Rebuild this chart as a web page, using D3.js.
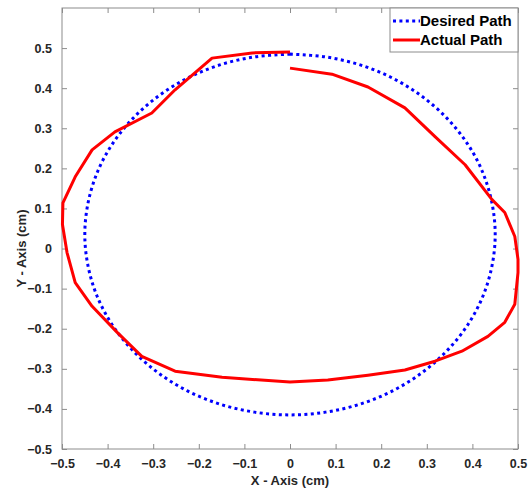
<!DOCTYPE html>
<html>
<head>
<meta charset="utf-8">
<script src="https://cdn.jsdelivr.net/npm/d3@7"></script>
<style>
  body { margin: 0; background: #fff; }
  text { font-family: "Liberation Sans", Arial, sans-serif; font-weight: bold; }
</style>
</head>
<body>
<div id="chart"></div>
<script>
// desired path (blue dotted)
var desiredX = [0, 0.078, 0.154, 0.225, 0.289, 0.345, 0.390, 0.423, 0.443, 0.450,
                0.443, 0.423, 0.390, 0.345, 0.289, 0.225, 0.154, 0.078, 0,
                -0.078, -0.154, -0.225, -0.289, -0.345, -0.390, -0.423, -0.443, -0.450,
                -0.443, -0.423, -0.390, -0.345, -0.289, -0.225, -0.154, -0.078, 0];
var desiredY = [0.485, 0.478, 0.458, 0.425, 0.380, 0.324, 0.260, 0.189, 0.113, 0.035,
                -0.043, -0.119, -0.190, -0.254, -0.310, -0.355, -0.388, -0.408, -0.415,
                -0.408, -0.388, -0.355, -0.310, -0.254, -0.190, -0.119, -0.043, 0.035,
                0.113, 0.189, 0.260, 0.324, 0.380, 0.425, 0.458, 0.478, 0.485];

// actual path (red solid)
var actualX = [0, 0.092, 0.171, 0.252, 0.318, 0.384, 0.443, 0.471, 0.493, 0.500,
               0.500, 0.493, 0.471, 0.434, 0.377, 0.318, 0.252, 0.171, 0.083, 0,
               -0.149, -0.252, -0.325, -0.379, -0.434, -0.471, -0.489, -0.499, -0.498,
               -0.471, -0.434, -0.384, -0.303, -0.252, -0.171, -0.083, 0];
var actualY = [0.450, 0.435, 0.403, 0.351, 0.279, 0.209, 0.122, 0.090, 0.030, -0.027,
               -0.060, -0.139, -0.184, -0.219, -0.256, -0.281, -0.303, -0.316, -0.328, -0.333,
               -0.321, -0.306, -0.269, -0.209, -0.144, -0.085, -0.010, 0.060, 0.114,
               0.179, 0.246, 0.291, 0.338, 0.396, 0.475, 0.488, 0.490];

var xTicks = [-0.5, -0.4, -0.3, -0.2, -0.1, 0, 0.1, 0.2, 0.3, 0.4, 0.5];
var yTicks = [-0.5, -0.4, -0.3, -0.2, -0.1, 0, 0.1, 0.2, 0.3, 0.4, 0.5];
var seriesNames = ["Desired Path", "Actual Path"];

var width = 532,
    height = 489,
    margin = { left: 62, right: 14, top: 8, bottom: 40 };

var innerW = width - margin.left - margin.right,
    innerH = height - margin.top - margin.bottom;

function translate(x, y){
    return "translate(" + x + "," + y + ")";
}

var xScale = d3.scaleLinear().domain([-0.5, 0.5]).range([0, innerW]);
var yScale = d3.scaleLinear().domain([-0.5, 0.6]).range([innerH, 0]);

var svg = d3.select("#chart").append("svg")
    .attr("width", width)
    .attr("height", height);

var g = svg.append("g").attr("transform", translate(margin.left, margin.top));

var fmt = function(d){ return d === 0 ? "0" : d3.format(".1f")(d); };
var axisColor = "#8c8c8c", labelColor = "#262626";

function styleAxis(sel, showText){
    sel.select(".domain").remove();
    sel.selectAll(".tick line").attr("stroke", axisColor);
    sel.selectAll(".tick text")
        .attr("fill", labelColor)
        .style("font-size", "12.5px")
        .style("display", showText ? null : "none");
}

// bottom / top axes (ticks inward)
g.append("g").attr("class", "x-axis")
    .attr("transform", translate(0, innerH))
    .call(d3.axisBottom(xScale).tickValues(xTicks).tickFormat(fmt).tickSizeInner(-5).tickPadding(10))
    .call(styleAxis, true);
g.append("g")
    .call(d3.axisTop(xScale).tickValues(xTicks).tickSizeInner(-5))
    .call(styleAxis, false);

// left / right axes
g.append("g").attr("class", "y-axis")
    .call(d3.axisLeft(yScale).tickValues(yTicks).tickFormat(fmt).tickSizeInner(-5).tickPadding(10))
    .call(styleAxis, true);
g.append("g")
    .attr("transform", translate(innerW, 0))
    .call(d3.axisRight(yScale).tickValues(yTicks).tickSizeInner(-5))
    .call(styleAxis, false);

g.append("rect")
    .attr("width", innerW).attr("height", innerH)
    .attr("fill", "none").attr("stroke", axisColor).attr("stroke-width", 1);

// paths
var desired = desiredX.map(function(d, i){ return [d, desiredY[i]]; });
var actual = actualX.map(function(d, i){ return [d, actualY[i]]; });

var line = d3.line()
    .x(function(d){ return xScale(d[0]); })
    .y(function(d){ return yScale(d[1]); });

g.append("path").datum(desired)
    .attr("d", line.curve(d3.curveCatmullRom))
    .attr("fill", "none")
    .attr("stroke", "#0000ff")
    .attr("stroke-width", 3)
    .attr("stroke-dasharray", "3 3.4");

g.append("path").datum(actual)
    .attr("d", line.curve(d3.curveLinear))
    .attr("fill", "none")
    .attr("stroke", "#ff0000")
    .attr("stroke-width", 3)
    .attr("stroke-linejoin", "round");

// axis labels
svg.append("text")
    .attr("x", margin.left + innerW / 2).attr("y", 485)
    .attr("text-anchor", "middle")
    .attr("fill", labelColor)
    .style("font-size", "13px")
    .text("X - Axis (cm)");

svg.append("text")
    .attr("transform", translate(26, margin.top + yScale(0)) + " rotate(-90)")
    .attr("text-anchor", "middle")
    .attr("fill", labelColor)
    .style("font-size", "13px")
    .text("Y - Axis (cm)");

// legend
var legend = g.append("g").attr("transform", translate(innerW - 128, 0));
legend.append("rect")
    .attr("width", 128).attr("height", 44)
    .attr("fill", "#fff").attr("stroke", axisColor);

var legendStyles = [
    { color: "#0000ff", dash: "3 3.4" },
    { color: "#ff0000", dash: null }
];
seriesNames.forEach(function(name, i){
    var row = legend.append("g").attr("transform", translate(0, 13 + i * 19));
    row.append("line")
        .attr("x1", 3).attr("x2", 30)
        .attr("stroke", legendStyles[i].color)
        .attr("stroke-width", 3)
        .attr("stroke-dasharray", legendStyles[i].dash);
    row.append("text")
        .attr("x", 30).attr("dy", "0.35em")
        .attr("fill", "#000")
        .style("font-size", "15px")
        .text(name);
});
</script>
</body>
</html>
